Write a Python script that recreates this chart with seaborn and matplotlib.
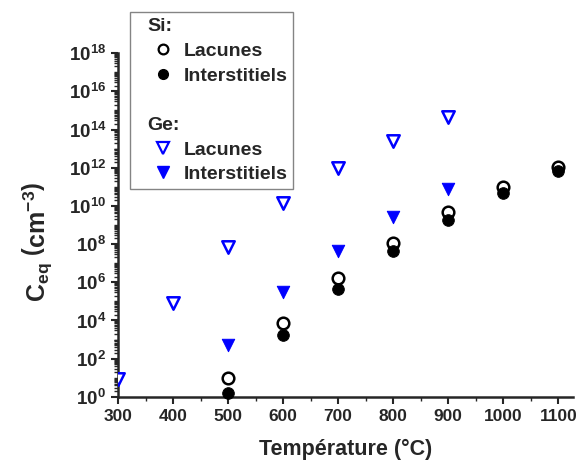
import numpy as np
import pandas as pd
import matplotlib
matplotlib.use('Agg')
import matplotlib.pyplot as plt
import matplotlib.ticker as mticker
from matplotlib.lines import Line2D
import seaborn as sns

# valeurs
temp_si = [500, 600, 700, 800, 900, 1000, 1100]
si_lac = [10, 7.5e3, 1.7e6, 1.1e8, 4.8e9, 1.0e11, 1.1e12]
si_int = [1.6, 1.8e3, 4.5e5, 4.4e7, 1.9e9, 4.8e10, 6.8e11]

temp_ge_lac = [300, 400, 500, 600, 700, 800, 900]
ge_lac = [9, 8e4, 7e7, 1.4e10, 1.0e12, 2.5e13, 4.6e14]
temp_ge_int = [500, 600, 700, 800, 900]
ge_int = [5e2, 3e5, 4.4e7, 2.6e9, 8e10]

sns.set_style('ticks')
plt.rcParams['font.family'] = ['Liberation Sans', 'DejaVu Sans']
plt.rcParams['font.weight'] = 'bold'
plt.rcParams['mathtext.fontset'] = 'custom'
plt.rcParams['mathtext.rm'] = 'Liberation Sans:bold'
plt.rcParams['mathtext.bf'] = 'Liberation Sans:bold'
plt.rcParams['mathtext.it'] = 'Liberation Sans:bold'

fig = plt.figure(figsize=(5.76, 4.62), dpi=100)
ax = fig.add_axes([0.205, 0.141, 0.79, 0.744])

sns.scatterplot(x=temp_si, y=si_lac, ax=ax, marker='o', s=70, facecolor='white',
                edgecolor='black', linewidth=1.8, clip_on=False, zorder=3)
sns.scatterplot(x=temp_si, y=si_int, ax=ax, marker='o', s=70, color='black',
                edgecolor='black', clip_on=False, zorder=3)
sns.scatterplot(x=temp_ge_lac, y=ge_lac, ax=ax, marker='v', s=80, facecolor='white',
                edgecolor='blue', linewidth=1.8, zorder=3)
sns.scatterplot(x=temp_ge_int, y=ge_int, ax=ax, marker='v', s=80, color='blue',
                edgecolor='blue', zorder=3)

ax.set_yscale('log')
ax.set_xlim(300, 1127)
ax.set_ylim(1, 1e18)
ax.xaxis.set_major_locator(mticker.MultipleLocator(100))
ax.xaxis.set_minor_locator(mticker.MultipleLocator(50))
ax.yaxis.set_major_locator(mticker.FixedLocator([10.0 ** k for k in range(0, 19, 2)]))
ax.yaxis.set_minor_locator(mticker.LogLocator(base=10, subs=np.arange(1, 10), numticks=100))
ax.yaxis.set_minor_formatter(mticker.NullFormatter())
ax.yaxis.set_major_formatter(mticker.FuncFormatter(lambda v, p: r'$\mathbf{10^{%d}}$' % round(np.log10(v))))

ax.tick_params(axis='x', which='major', labelsize=12.5)
ax.tick_params(axis='y', which='major', labelsize=13.5)
ax.tick_params(axis='both', which='major', length=5, width=1.5)
ax.tick_params(axis='both', which='minor', length=3, width=1)
for lab in ax.get_xticklabels():
    lab.set_fontweight('bold')

sns.despine(ax=ax)
ax.spines['left'].set_linewidth(1.8)
ax.spines['bottom'].set_linewidth(1.8)

ax.set_xlabel('Température (°C)', fontsize=15.5, fontweight='bold', labelpad=11)
ax.set_ylabel(r'$\mathbf{C_{eq}}\ \left(\mathbf{cm^{-3}}\right)$', fontsize=18, fontweight='bold')
ax.yaxis.set_label_coords(-0.14, 0.45)

blank = Line2D([], [], linestyle='none', marker=None)
handles = [
    blank,
    Line2D([], [], linestyle='none', marker='o', markerfacecolor='white', markeredgecolor='black', markeredgewidth=1.6, markersize=7),
    Line2D([], [], linestyle='none', marker='o', color='black', markersize=7),
    blank,
    blank,
    Line2D([], [], linestyle='none', marker='v', markerfacecolor='white', markeredgecolor='blue', markeredgewidth=1.6, markersize=8),
    Line2D([], [], linestyle='none', marker='v', color='blue', markersize=8),
]
labels = ['Si:', 'Lacunes', 'Interstitiels', ' ', 'Ge:', 'Lacunes', 'Interstitiels']
leg = fig.legend(handles, labels, loc='upper left', bbox_to_anchor=(0.2257, 0.974),
                 frameon=True, fancybox=False, edgecolor='#666666', fontsize=14,
                 handlelength=2.8, handletextpad=-0.36, labelspacing=0.36, borderpad=0.3,
                 borderaxespad=0)
leg.get_frame().set_linewidth(1.0)
header_rows = [0, 3, 4]
for i, hpack in enumerate(leg._legend_handle_box.get_children()[0].get_children()):
    if i in header_rows:
        hpack.get_children()[0].set_width(13)

fig.savefig('out.png', dpi=100)
